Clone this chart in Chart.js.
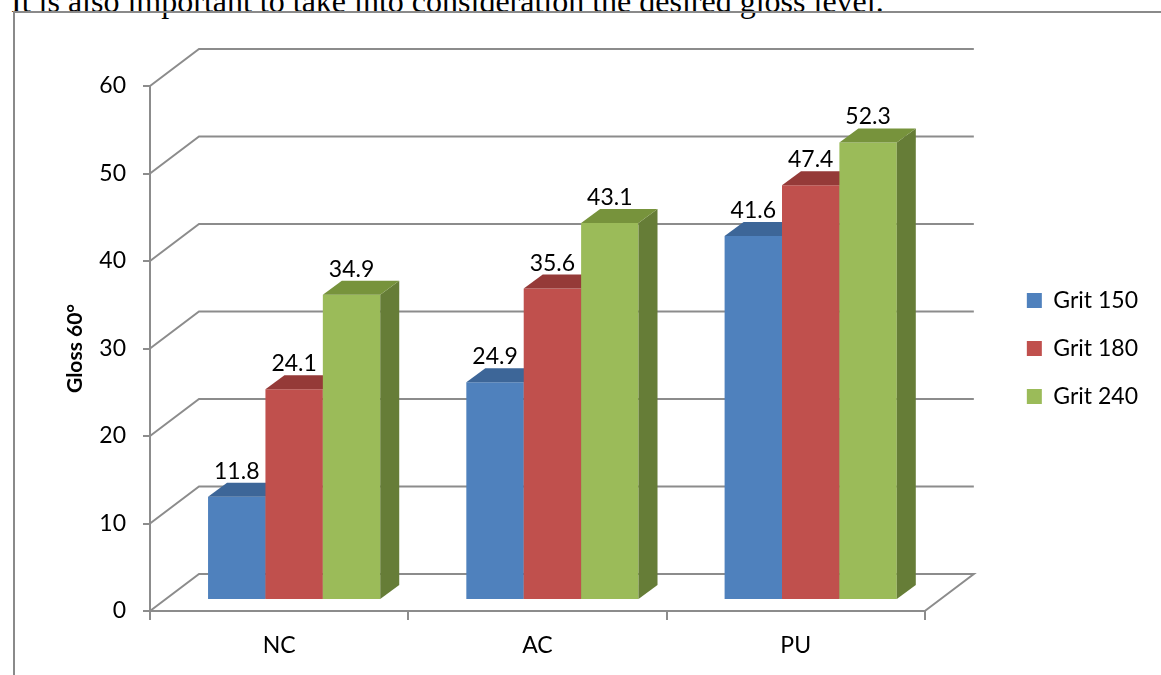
<!DOCTYPE html>
<html>
<head>
<meta charset="utf-8">
<script src="https://cdn.jsdelivr.net/npm/chart.js@4.4.1/dist/chart.umd.min.js"></script>
<style>
  html, body { margin: 0; padding: 0; background: #fff; overflow: hidden; }
  #page { position: relative; width: 1161px; height: 675px; overflow: hidden; background: #fff; }
  #lead {
    position: absolute; left: 11px; top: -15px;
    font-family: "Liberation Serif", "Times New Roman", serif;
    font-size: 32px; line-height: 1; white-space: nowrap; color: #000;
  }
  #frame {
    position: absolute; left: 13px; top: 11px; right: -10px; bottom: -10px;
    border-top: 2px solid #8a8a8a; border-left: 2px solid #8a8a8a;
    pointer-events: none;
  }
  #chart { position: absolute; left: 0; top: 0; }
</style>
</head>
<body>
<div id="page">
  <div id="lead">It is also important to take into consideration the desired gloss level.</div>
  <canvas id="chart" width="1161" height="675"></canvas>
  <div id="frame"></div>
</div>
<script>
// Gloss (60°) by coating type and sanding grit
const categories = ['NC', 'AC', 'PU'];
const seriesNames = ['Grit 150', 'Grit 180', 'Grit 240'];
const grit150 = [11.8, 24.9, 41.6];
const grit180 = [24.1, 35.6, 47.4];
const grit240 = [34.9, 43.1, 52.3];
const yTicks = [0, 10, 20, 30, 40, 50, 60];

// Face colours: front, top, right side
const frontColors = ['#4F81BD', '#C0504D', '#9BBB59'];
const topColors   = ['#3D6698', '#953A38', '#77933C'];
const sideColors  = ['#3A5F8E', '#8E3634', '#667D37'];

const GRID = '#8c8c8c';
const FONT = 'Lato';

// Oblique projection offsets (pixels)
const WALL = { dx: 49, dy: -37 };     // front plane -> back wall
const BAR_PLANE = { dx: 15, dy: -11 }; // front plane -> bar front faces
const BAR_DEPTH = { dx: 19, dy: -14 }; // bar front face -> bar back face

const box3d = {
  id: 'box3d',
  beforeDatasetsDraw(chart) {
    const { ctx, chartArea: { left, right }, scales: { y } } = chart;

    // Side wall diagonals, back wall gridlines and floor outline
    ctx.save();
    ctx.strokeStyle = GRID;
    ctx.lineWidth = 2;
    ctx.lineJoin = 'miter';
    y.ticks.forEach(t => {
      const py = y.getPixelForValue(t.value);
      ctx.beginPath();
      ctx.moveTo(left, py);
      ctx.lineTo(left + WALL.dx, py + WALL.dy);
      ctx.lineTo(right + WALL.dx, py + WALL.dy);
      if (t.value === y.min) ctx.lineTo(right, py);
      ctx.stroke();
    });
    ctx.restore();

    // Bars: front face by the library, then the top and side faces
    ctx.save();
    ctx.translate(BAR_PLANE.dx, BAR_PLANE.dy);
    chart.data.datasets.forEach((ds, d) => {
      const meta = chart.getDatasetMeta(d);
      if (meta.hidden) return;
      meta.data.forEach(bar => {
        const { x, y: top, base, width } = bar.getProps(['x', 'y', 'base', 'width'], true);
        const x0 = x - width / 2, x1 = x + width / 2;
        bar.draw(ctx);
        ctx.fillStyle = sideColors[d];
        ctx.beginPath();
        ctx.moveTo(x1, base);
        ctx.lineTo(x1 + BAR_DEPTH.dx, base + BAR_DEPTH.dy);
        ctx.lineTo(x1 + BAR_DEPTH.dx, top + BAR_DEPTH.dy);
        ctx.lineTo(x1, top);
        ctx.closePath();
        ctx.fill();
        ctx.fillStyle = topColors[d];
        ctx.beginPath();
        ctx.moveTo(x0, top);
        ctx.lineTo(x1, top);
        ctx.lineTo(x1 + BAR_DEPTH.dx, top + BAR_DEPTH.dy);
        ctx.lineTo(x0 + BAR_DEPTH.dx, top + BAR_DEPTH.dy);
        ctx.closePath();
        ctx.fill();
      });
    });

    // Value labels above each bar
    ctx.fillStyle = '#000';
    ctx.font = '23px ' + FONT;
    ctx.textAlign = 'center';
    ctx.textBaseline = 'alphabetic';
    chart.data.datasets.forEach((ds, d) => {
      const meta = chart.getDatasetMeta(d);
      meta.data.forEach((bar, i) => {
        const { x, y: top } = bar.getProps(['x', 'y'], true);
        ctx.fillText(ds.data[i].toFixed(1), x, top + BAR_DEPTH.dy - 4);
      });
    });
    ctx.restore();
    return false;
  }
};

function draw() {
  const seriesData = [grit150, grit180, grit240];
  new Chart(document.getElementById('chart'), {
    type: 'bar',
    data: {
      labels: categories,
      datasets: seriesNames.map((name, i) => ({
        label: name,
        data: seriesData[i],
        backgroundColor: frontColors[i],
        borderWidth: 0,
        categoryPercentage: 3 / 4.5,
        barPercentage: 1.0
      }))
    },
    options: {
      responsive: false,
      animation: false,
      devicePixelRatio: 1,
      layout: { padding: { top: 86, left: 0, right: 13, bottom: 0 } },
      plugins: {
        tooltip: { enabled: false },
        legend: {
          position: 'right',
          fullSize: false,
          labels: {
            boxWidth: 15, boxHeight: 15, padding: 25,
            color: '#000', font: { family: FONT, size: 23 }
          }
        }
      },
      scales: {
        x: {
          offset: true,
          afterFit: s => { s.height = 64; },
          grid: { offset: true, drawOnChartArea: false, tickLength: 9, color: GRID, lineWidth: 2 },
          border: { display: true, color: GRID, width: 2 },
          ticks: { color: '#000', padding: 12, font: { family: FONT, size: 23 } }
        },
        y: {
          min: 0, max: 60,
          afterFit: s => { s.width = 150; },
          afterBuildTicks: s => { s.ticks = yTicks.map(v => ({ value: v })); },
          grid: { drawOnChartArea: false, tickLength: 7, color: GRID, lineWidth: 2 },
          border: { display: true, color: GRID, width: 2 },
          ticks: { color: '#000', padding: 17, font: { family: FONT, size: 23 } },
          title: {
            display: true, text: 'Gloss 60°', color: '#000',
            font: { family: FONT, size: 21, weight: 'bold' },
            padding: { top: 63, bottom: 0 }
          }
        },
        yRight: {
          position: 'right',
          display: true,
          afterFit: s => { s.width = 77; },
          grid: { display: false, drawTicks: false },
          border: { display: false },
          ticks: { display: false }
        }
      }
    },
    plugins: [box3d]
  });
}

if (document.fonts && document.fonts.load) {
  Promise.all([
    document.fonts.load('23px Lato'),
    document.fonts.load('bold 21px Lato')
  ]).then(draw, draw);
} else {
  draw();
}
</script>
</body>
</html>
